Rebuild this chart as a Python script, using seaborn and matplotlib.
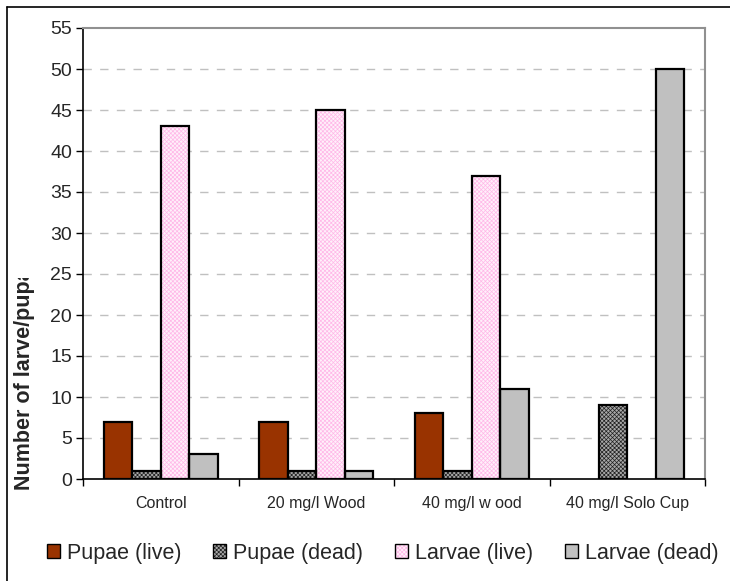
import matplotlib
matplotlib.use("Agg")
import matplotlib.pyplot as plt
import matplotlib.patches as mpatches
import matplotlib.lines as mlines
from matplotlib.transforms import Bbox, TransformedBbox
import seaborn as sns
import pandas as pd

categories = ["Control", "20 mg/l Wood", "40 mg/l w ood", "40 mg/l Solo Cup"]
series = ["Pupae (live)", "Pupae (dead)", "Larvae (live)", "Larvae (dead)"]
pupae_live = [7, 7, 8, 0]
pupae_dead = [1, 1, 1, 9]
larvae_live = [43, 45, 37, 0]
larvae_dead = [3, 1, 11, 50]
y_ticks = list(range(0, 56, 5))
y_label = "Number of larve/pupae"

values = {"Pupae (live)": pupae_live, "Pupae (dead)": pupae_dead,
          "Larvae (live)": larvae_live, "Larvae (dead)": larvae_dead}
rows = []
for s in series:
    for c, v in zip(categories, values[s]):
        rows.append({"category": c, "series": s, "value": v})
df = pd.DataFrame(rows)

face = {"Pupae (live)": "#993300", "Pupae (dead)": "#a8a8a8",
        "Larvae (live)": "#fff0fa", "Larvae (dead)": "#c0c0c0"}
hatch = {"Pupae (dead)": ("xxxxxxxx", "#202020"), "Larvae (live)": ("xxxxxxxx", "#ffb8e8")}

sns.set_style("white")
plt.rcParams["font.family"] = ["Liberation Sans", "DejaVu Sans"]
plt.rcParams["hatch.linewidth"] = 0.5

fig = plt.figure(figsize=(7.30, 5.81), dpi=100)
ax = fig.add_axes([83/730, 1-479/581, (705-83)/730, (479-28)/581])

sns.barplot(data=df, x="category", y="value", hue="series", order=categories,
            hue_order=series, palette=[face[s] for s in series], width=0.73,
            saturation=1, ax=ax, legend=False, zorder=3)

bars = [p for p in ax.patches if isinstance(p, mpatches.Rectangle)]
n = len(categories)
for i, p in enumerate(bars[:len(series)*n]):
    s = series[i // n]
    p.set_facecolor(face[s])
    if p.get_height() == 0:
        p.set_visible(False)
        continue
    if s in hatch:
        h, hc = hatch[s]
        p.set_hatch(h)
        p.set_edgecolor(hc)
        p.set_linewidth(0)
        ol = mpatches.Rectangle(p.get_xy(), p.get_width(), p.get_height(),
                                facecolor="none", edgecolor="black", lw=1.6, zorder=4)
        ax.add_patch(ol)
    else:
        p.set_edgecolor("black")
        p.set_linewidth(1.6)

ax.set_ylim(0, 55)
ax.set_xlim(-0.5, n - 0.5)
ax.set_yticks(y_ticks)
ax.set_yticklabels([str(t) for t in y_ticks], fontsize=14)
ax.set_xticks(range(n))
ax.set_xticklabels(categories, fontsize=11.5)
ax.set_xticks([i - 0.5 for i in range(n + 1)], minor=True)
ax.tick_params(axis="x", which="major", length=0, pad=12)
ax.tick_params(axis="x", which="minor", length=5, width=1, color="black", direction="out", bottom=True)
ax.tick_params(axis="y", length=5, width=1, color="black", direction="out", left=True, pad=3)
ax.set_xlabel("")
ax.set_ylabel("")

for t in y_ticks[1:-1]:
    ax.axhline(t, color="#c0c0c0", lw=1, ls=(0, (6, 6)), zorder=1)

for sp in ["left", "bottom"]:
    ax.spines[sp].set_color("black")
    ax.spines[sp].set_linewidth(1.2)
for sp in ["top", "right"]:
    ax.spines[sp].set_color("#909090")
    ax.spines[sp].set_linewidth(1.5)

# y label clipped at top like the reference
yl = fig.text(25/730, 1-490/581, y_label, rotation=90, ha="center", va="bottom",
              fontsize=15.5, fontweight="bold")
yl.set_clip_box(TransformedBbox(Bbox([[0, 0], [60/730, 1-278/581]]), fig.transFigure))
yl.set_clip_on(True)

# outer frame
fig.add_artist(mlines.Line2D([7/730, 7/730], [0, 1-7/581], color="black", lw=1.2,
                             transform=fig.transFigure))
fig.add_artist(mlines.Line2D([7/730, 1], [1-7/581, 1-7/581], color="black", lw=1.2,
                             transform=fig.transFigure))

handles = []
for s in series:
    if s in hatch:
        h, hc = hatch[s]
        handles.append((mpatches.Patch(facecolor=face[s], edgecolor=hc, hatch=h, lw=0),
                        mpatches.Patch(facecolor="none", edgecolor="black", lw=1)))
    else:
        handles.append(mpatches.Patch(facecolor=face[s], edgecolor="black", lw=1))
fig.legend(handles, series, loc="center left", bbox_to_anchor=(47/730, 1-553/581),
           ncol=4, frameon=False, fontsize=15.5, handlelength=0.6, handleheight=0.6,
           handletextpad=0.33, columnspacing=1.48, borderpad=0, borderaxespad=0)

fig.savefig("out.png", dpi=100)
